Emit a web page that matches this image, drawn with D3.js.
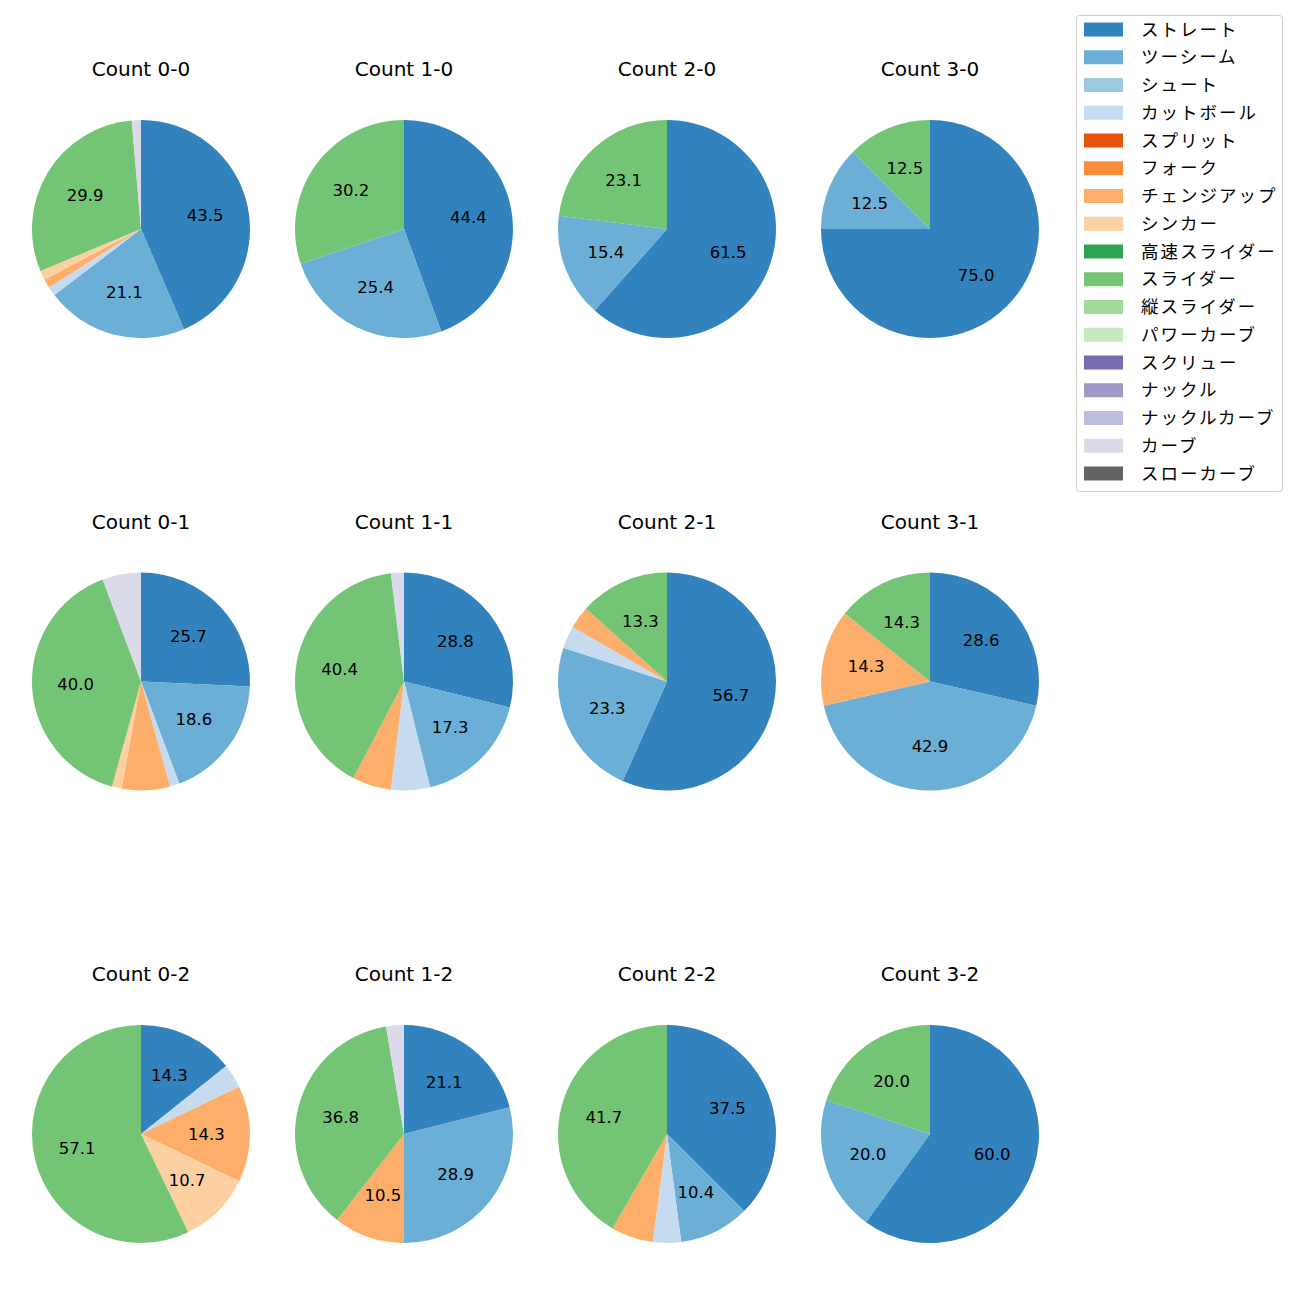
<!DOCTYPE html>
<html><head><meta charset="utf-8">
<script src="https://cdn.jsdelivr.net/npm/d3@7"></script>
<style>body{margin:0;background:#fff;} svg{display:block;font-family:"DejaVu Sans","Noto Sans CJK JP",sans-serif;}</style>
</head><body><svg id="c" width="1300" height="1300"></svg>
<script>
const pitchTypes = ["ストレート","ツーシーム","シュート","カットボール","スプリット","フォーク","チェンジアップ","シンカー","高速スライダー","スライダー","縦スライダー","パワーカーブ","スクリュー","ナックル","ナックルカーブ","カーブ","スローカーブ"];
const pitchColors = ["#3182bd","#6baed6","#9ecae1","#c6dbef","#e6550d","#fd8d3c","#fdae6b","#fdd0a2","#31a354","#74c476","#a1d99b","#c7e9c0","#756bb1","#9e9ac8","#bcbddc","#dadaeb","#636363"];
const counts = ["Count 0-0","Count 1-0","Count 2-0","Count 3-0","Count 0-1","Count 1-1","Count 2-1","Count 3-1","Count 0-2","Count 1-2","Count 2-2","Count 3-2"];
// pitch counts per type (order of pitchTypes)
const c00 = [64,31,0,2,0,0,2,2,0,44,0,0,0,0,0,2,0];
const c10 = [28,16,0,0,0,0,0,0,0,19,0,0,0,0,0,0,0];
const c20 = [8,2,0,0,0,0,0,0,0,3,0,0,0,0,0,0,0];
const c30 = [6,1,0,0,0,0,0,0,0,1,0,0,0,0,0,0,0];
const c01 = [18,13,0,1,0,0,5,1,0,28,0,0,0,0,0,4,0];
const c11 = [15,9,0,3,0,0,3,0,0,21,0,0,0,0,0,1,0];
const c21 = [17,7,0,1,0,0,1,0,0,4,0,0,0,0,0,0,0];
const c31 = [2,3,0,0,0,0,1,0,0,1,0,0,0,0,0,0,0];
const c02 = [4,0,0,1,0,0,4,3,0,16,0,0,0,0,0,0,0];
const c12 = [8,11,0,0,0,0,4,0,0,14,0,0,0,0,0,1,0];
const c22 = [18,5,0,2,0,0,3,0,0,20,0,0,0,0,0,0,0];
const c32 = [3,1,0,0,0,0,0,0,0,1,0,0,0,0,0,0,0];
const seriesValues = [c00,c10,c20,c30,c01,c11,c21,c31,c02,c12,c22,c32];

const svg = d3.select("#c");
const colX = d3.scalePoint().domain([0,1,2,3]).range([141,930]);
const rowY = d3.scalePoint().domain([0,1,2]).range([229,1134]);
const color = d3.scaleOrdinal().domain(pitchTypes).range(pitchColors);
const R = 109;
const pie = d3.pie().sort(null).value(d=>d.v).startAngle(0).endAngle(2*Math.PI);
const arc = d3.arc().innerRadius(0).outerRadius(R);
const labelArc = d3.arc().innerRadius(R*0.6).outerRadius(R*0.6);

counts.forEach((title,i)=>{
  const vals = seriesValues[i];
  const total = d3.sum(vals);
  const data = pitchTypes.map((t,j)=>({t, v: vals[j]})).filter(d=>d.v>0);
  const g = svg.append("g").attr("transform",`translate(${colX(i%4)},${rowY(Math.floor(i/4))})`);
  const arcs = pie(data);
  g.selectAll("path").data(arcs).join("path").attr("d",arc).attr("fill",d=>color(d.data.t));
  g.selectAll("text.lbl").data(arcs.filter(d=>d.data.v/total*100>=10)).join("text")
    .attr("class","lbl")
    .attr("transform",d=>`translate(${labelArc.centroid(d)})`)
    .attr("text-anchor","middle").attr("dominant-baseline","central")
    .attr("font-size","16.5px").attr("fill","#000")
    .text(d=>(d.data.v/total*100).toFixed(1));
  g.append("text").attr("x",0).attr("y",-R-51).attr("text-anchor","middle")
    .attr("dominant-baseline","central").attr("font-size","20px").attr("fill","#000").text(title);
});

// legend
const lg = svg.append("g");
lg.append("rect").attr("x",1076.5).attr("y",15.5).attr("width",206).attr("height",476)
  .attr("rx",3).attr("fill","#fff").attr("stroke","#ccc").attr("stroke-width",1);
const ly = d3.scaleLinear().domain([0,16]).range([29.5,473.5]);
pitchTypes.forEach((t,j)=>{
  lg.append("rect").attr("x",1084).attr("y",ly(j)-7).attr("width",39).attr("height",14).attr("fill",color(t));
  lg.append("text").attr("x",1141).attr("y",ly(j)).attr("dominant-baseline","central")
    .attr("font-size","17.5px").attr("letter-spacing","2px").attr("fill","#000").text(t);
});
</script></body></html>
